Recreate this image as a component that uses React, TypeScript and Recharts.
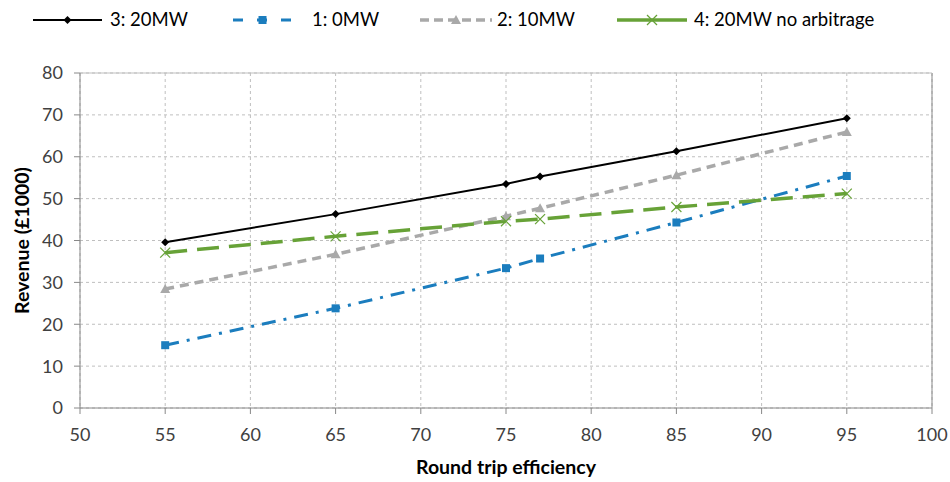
import React from 'react';
import { LineChart, Line, XAxis, YAxis, CartesianGrid, Legend, ReferenceLine } from 'recharts';

const efficiency = [55, 65, 75, 77, 85, 95];
const s3_20MW = [39.6, 46.3, 53.5, 55.3, 61.3, 69.2];
const s1_0MW = [15.0, 23.8, 33.4, 35.7, 44.3, 55.4];
const s2_10MW = [28.4, 36.7, 45.8, 47.7, 55.6, 65.9];
const s4_20MWnoArb = [37.1, 41.0, 44.6, 45.1, 48.0, 51.2];
const xTicks = [50, 55, 60, 65, 70, 75, 80, 85, 90, 95, 100];
const yTicks = [0, 10, 20, 30, 40, 50, 60, 70, 80];

const data = efficiency.map((x, i) => ({
  x,
  s3: s3_20MW[i],
  s1: s1_0MW[i],
  s2: s2_10MW[i],
  s4: s4_20MWnoArb[i],
}));

const FONT = 'Lato, "Open Sans", sans-serif';

const Diamond = (props: any) => {
  const { cx, cy, fill } = props;
  if (cx == null || cy == null) return null;
  const r = 4;
  return <polygon points={`${cx},${cy - r} ${cx + r},${cy} ${cx},${cy + r} ${cx - r},${cy}`} fill={fill} />;
};
const Square = (props: any) => {
  const { cx, cy, fill } = props;
  if (cx == null || cy == null) return null;
  const r = 4;
  return <rect x={cx - r} y={cy - r} width={2 * r} height={2 * r} fill={fill} />;
};
const Triangle = (props: any) => {
  const { cx, cy, fill } = props;
  if (cx == null || cy == null) return null;
  const r = 5;
  return <polygon points={`${cx},${cy - r} ${cx + r},${cy + r * 0.8} ${cx - r},${cy + r * 0.8}`} fill={fill} />;
};
const Cross = (props: any) => {
  const { cx, cy, stroke } = props;
  if (cx == null || cy == null) return null;
  const r = 5;
  return (
    <g stroke={stroke} strokeWidth={1.2}>
      <line x1={cx - r} y1={cy - r} x2={cx + r} y2={cy + r} />
      <line x1={cx - r} y1={cy + r} x2={cx + r} y2={cy - r} />
    </g>
  );
};

const series = [
  { key: 's3', name: '3: 20MW', color: '#000000', width: 2, dash: undefined as string | undefined, Shape: Diamond },
  { key: 's1', name: '1: 0MW', color: '#1B7DBE', width: 3, dash: '14 8 3 8', Shape: Square },
  { key: 's2', name: '2: 10MW', color: '#A9A9A9', width: 3.5, dash: '9 6', Shape: Triangle },
  { key: 's4', name: '4: 20MW no arbitrage', color: '#67A237', width: 3.5, dash: '22 10', Shape: Cross },
];

const legendPos = [
  { lx: 33, lx2: 102, tx: 110 },
  { lx: 233, lx2: 292, tx: 312 },
  { lx: 420, lx2: 492, tx: 497 },
  { lx: 617, lx2: 687, tx: 694 },
];

const legendDash = [undefined, '10 14', '9 5', undefined];

const LegendContent = () => (
  <svg width={950} height={40} style={{ display: 'block' }}>
    {series.map((s, i) => {
      const { lx, lx2, tx } = legendPos[i];
      const cy = 20;
      const Shape = s.Shape;
      return (
        <g key={s.key}>
          <line x1={lx} y1={cy} x2={lx2} y2={cy} stroke={s.color} strokeWidth={s.width} strokeDasharray={legendDash[i]} />
          <Shape cx={(lx + lx2) / 2} cy={cy} fill={s.color} stroke={s.color} />
          <text x={tx} y={cy + 6} fontSize={18.5} fontFamily={FONT} fill="#000">{s.name}</text>
        </g>
      );
    })}
  </svg>
);

export default function App() {
  return (
    <div style={{ position: 'absolute', left: 0, top: 0, width: 950, height: 482, background: '#fff' }}>
      <LineChart width={950} height={482} data={data} margin={{ top: 33, right: 18, bottom: 0, left: 0 }}>
        <Legend verticalAlign="top" align="left" height={40} content={<LegendContent />} wrapperStyle={{ top: 0, left: 0 }} />
        <CartesianGrid stroke="#BFBFBF" strokeDasharray="3 3" />
        <XAxis
          dataKey="x"
          type="number"
          domain={[50, 100]}
          ticks={xTicks}
          interval={0}
          height={74}
          stroke="#888888"
          tickSize={6}
          tick={{ fill: '#404040', fontSize: 18, fontFamily: FONT }}
          tickMargin={14}
          label={{ value: 'Round trip efficiency', position: 'insideBottom', offset: 8, fill: '#000', fontSize: 19.5, fontWeight: 700, fontFamily: FONT }}
        />
        <YAxis
          type="number"
          domain={[0, 80]}
          ticks={yTicks}
          interval={0}
          width={80}
          stroke="#888888"
          tickSize={6}
          tick={{ fill: '#404040', fontSize: 18, fontFamily: FONT }}
          tickMargin={11}
          label={{ value: 'Revenue (£1000)', angle: -90, position: 'insideLeft', offset: 22, style: { textAnchor: 'middle' }, fill: '#000', fontSize: 19.5, fontWeight: 700, fontFamily: FONT }}
        />
        <ReferenceLine x={100} stroke="#888888" strokeWidth={1} />
        <ReferenceLine y={80} stroke="#BFBFBF" strokeWidth={1} />
        {series.map((s) => (
          <Line
            key={s.key}
            dataKey={s.key}
            name={s.name}
            stroke={s.color}
            strokeWidth={s.width}
            strokeDasharray={s.dash}
            dot={<s.Shape fill={s.color} stroke={s.color} />}
            activeDot={false}
            isAnimationActive={false}
          />
        ))}
      </LineChart>
    </div>
  );
}
